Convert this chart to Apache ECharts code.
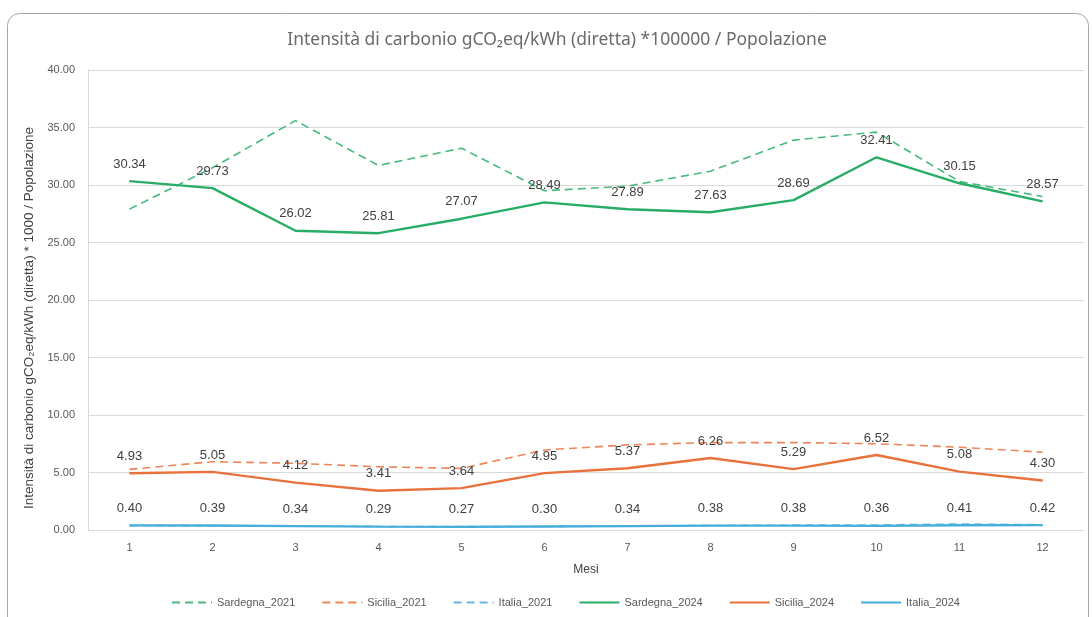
<!DOCTYPE html>
<html>
<head>
<meta charset="utf-8">
<script src="https://cdn.jsdelivr.net/npm/echarts@6/dist/echarts.min.js"></script>
<style>
  html, body { margin: 0; padding: 0; background: #ffffff; }
  #chart { width: 1092px; height: 617px; }
</style>
</head>
<body>
<div id="chart"></div>
<script>
// Monthly carbon intensity (direct) scaled by population
const months = ['1', '2', '3', '4', '5', '6', '7', '8', '9', '10', '11', '12'];

const sardegna2021 = [27.9, 31.5, 35.6, 31.7, 33.2, 29.5, 29.9, 31.2, 33.9, 34.6, 30.3, 29.0];
const sicilia2021  = [5.27, 5.94, 5.80, 5.50, 5.36, 6.96, 7.40, 7.60, 7.60, 7.50, 7.20, 6.76];
const italia2021   = [0.37, 0.36, 0.34, 0.31, 0.29, 0.31, 0.34, 0.39, 0.42, 0.44, 0.52, 0.46];

const sardegna2024 = [30.34, 29.73, 26.02, 25.81, 27.07, 28.49, 27.89, 27.63, 28.69, 32.41, 30.15, 28.57];
const sicilia2024  = [4.93, 5.05, 4.12, 3.41, 3.64, 4.95, 5.37, 6.26, 5.29, 6.52, 5.08, 4.30];
const italia2024   = [0.40, 0.39, 0.34, 0.29, 0.27, 0.30, 0.34, 0.38, 0.38, 0.36, 0.41, 0.42];

const yTicks = { min: 0, max: 40, interval: 5 };

const GREEN = '#27ad66';
const ORANGE = '#e9713b';
const BLUE = '#46aedb';
const FONT = 'Liberation Sans, Arial, sans-serif';

function dashed(name, data, color) {
  return {
    name, type: 'line', data, symbol: 'none', z: 2,
    lineStyle: { color, width: 1.6, type: [8, 5], opacity: 0.85 },
    itemStyle: { color }
  };
}
// 2024 series carry value labels; a tiny symbol hidden under the line anchors them
function solid(name, data, color) {
  return {
    name, type: 'line', data, symbol: 'circle', symbolSize: 1, showSymbol: true, z: 3,
    lineStyle: { color, width: 2.4 },
    itemStyle: { color },
    label: {
      show: true, position: 'top', distance: 10,
      color: '#404040', fontSize: 13, fontFamily: FONT,
      formatter: p => Number(p.value).toFixed(2)
    }
  };
}

const chart = echarts.init(document.getElementById('chart'), null, { renderer: 'canvas' });
chart.setOption({
  animation: false,
  backgroundColor: '#ffffff',
  graphic: [{
    type: 'rect', silent: true, z: -10,
    shape: { x: 7.5, y: 13.5, width: 1081, height: 640, r: 12 },
    style: { fill: 'none', stroke: '#a6a6a6', lineWidth: 1 }
  }],
  title: {
    text: 'Intensità di carbonio gCO₂eq/kWh (diretta) *100000 / Popolazione',
    left: 552, top: 26, textAlign: 'center',
    textStyle: { color: '#6b6b6b', fontSize: 17.5, fontWeight: 'normal', fontFamily: 'Noto Sans, sans-serif' }
  },
  grid: { left: 88, right: 8, top: 70, bottom: 87, containLabel: false },
  legend: {
    bottom: 4, left: 166, itemWidth: 40, itemHeight: 10, itemGap: 26,
    itemStyle: { opacity: 0 },
    textStyle: { color: '#595959', fontSize: 11, fontFamily: FONT },
    data: ['Sardegna_2021', 'Sicilia_2021', 'Italia_2021', 'Sardegna_2024', 'Sicilia_2024', 'Italia_2024']
  },
  xAxis: {
    type: 'category', data: months, boundaryGap: true,
    name: 'Mesi', nameLocation: 'middle', nameGap: 34,
    nameTextStyle: { color: '#404040', fontSize: 12, fontFamily: FONT },
    axisLine: { lineStyle: { color: '#d9d9d9' } },
    axisTick: { show: false },
    axisLabel: { color: '#595959', fontSize: 11, margin: 12, fontFamily: FONT }
  },
  yAxis: {
    type: 'value', min: yTicks.min, max: yTicks.max, interval: yTicks.interval,
    name: 'Intensità di carbonio gCO₂eq/kWh (diretta) * 1000 / Popolazione',
    nameLocation: 'middle', nameGap: 29, nameRotate: 90,
    nameTextStyle: { color: '#404040', fontSize: 13.5, fontFamily: FONT, padding: [0, 36, 0, 0] },
    axisLine: { show: true, lineStyle: { color: '#d9d9d9' } },
    axisTick: { show: false },
    splitLine: { lineStyle: { color: '#d9d9d9' } },
    axisLabel: { color: '#595959', fontSize: 11, margin: 13, fontFamily: FONT, formatter: v => v.toFixed(2) }
  },
  series: [
    dashed('Sardegna_2021', sardegna2021, GREEN),
    dashed('Sicilia_2021', sicilia2021, ORANGE),
    dashed('Italia_2021', italia2021, BLUE),
    solid('Sardegna_2024', sardegna2024, GREEN),
    solid('Sicilia_2024', sicilia2024, ORANGE),
    solid('Italia_2024', italia2024, BLUE)
  ]
});
</script>
</body>
</html>
